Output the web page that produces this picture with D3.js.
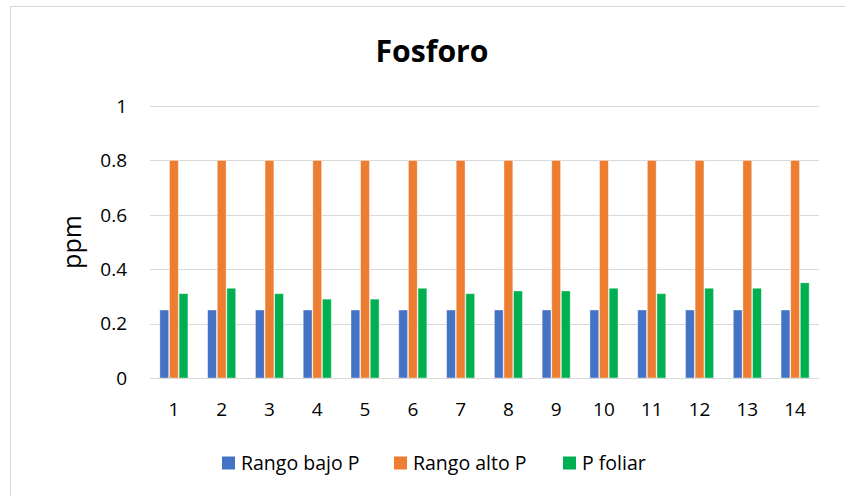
<!DOCTYPE html>
<html>
<head>
<meta charset="utf-8">
<script src="https://cdnjs.cloudflare.com/ajax/libs/d3/7.8.5/d3.min.js"></script>
<style>
  body { margin: 0; background: #fff; }
  svg text { font-family: "Open Sans", "Noto Sans", sans-serif; fill: #000; }
</style>
</head>
<body>
<script>
// data
var samples = ["1","2","3","4","5","6","7","8","9","10","11","12","13","14"]
var seriesNames = ["Rango bajo P","Rango alto P","P foliar"]
var rangoBajo = [0.25,0.25,0.25,0.25,0.25,0.25,0.25,0.25,0.25,0.25,0.25,0.25,0.25,0.25]
var rangoAlto = [0.8,0.8,0.8,0.8,0.8,0.8,0.8,0.8,0.8,0.8,0.8,0.8,0.8,0.8]
var pFoliar = [0.31,0.33,0.31,0.29,0.29,0.33,0.31,0.32,0.32,0.33,0.31,0.33,0.33,0.35]
var yTicks = [0,0.2,0.4,0.6,0.8,1]
var colors = ["#4472c4","#ed7d31","#00b050"]

var W = 845, H = 496
var margin = {top:106, left:150, right:26, bottom:118}

var svg = d3.select("body").append("svg")
  .attr("width",W)
  .attr("height",H)

svg.append("rect")
  .attr("x",10.5).attr("y",6.5)
  .attr("width",W).attr("height",H)
  .attr("fill","#fff")
  .attr("stroke","#d9d9d9")

var x = d3.scaleBand()
  .domain(samples)
  .range([margin.left, W-margin.right])
  .paddingInner(0.38)
  .paddingOuter(0.19)

var xIn = d3.scaleBand()
  .domain(seriesNames)
  .range([0, x.bandwidth()])
  .padding(0.08)

var y = d3.scaleLinear()
  .domain([0,1])
  .range([H-margin.bottom, margin.top])

// gridlines
svg.append("g")
  .selectAll("line")
  .data(yTicks)
  .join("line")
  .attr("x1",margin.left)
  .attr("x2",W-margin.right)
  .attr("y1",d=>Math.round(y(d))+0.5)
  .attr("y2",d=>Math.round(y(d))+0.5)
  .attr("stroke","#d9d9d9")
  .attr("stroke-width",1)

// y tick labels
svg.append("g")
  .selectAll("text")
  .data(yTicks)
  .join("text")
  .attr("x",127)
  .attr("y",d=>y(d))
  .attr("dy","0.36em")
  .attr("text-anchor","end")
  .style("font-size","19px")
  .text(d=>d3.format("")(d))

// x tick labels
svg.append("g")
  .selectAll("text")
  .data(samples)
  .join("text")
  .attr("x",d=>x(d)+x.bandwidth()/2)
  .attr("y",y(0)+38)
  .attr("text-anchor","middle")
  .style("font-size","19px")
  .text(d=>d)

var table = samples.map(function(s,i)
{
  return {
    sample:s,
    values:[rangoBajo[i],rangoAlto[i],pFoliar[i]].map(function(v,j){return {name:seriesNames[j],value:v,color:colors[j]}})
  }
})

var groups = svg.append("g")
  .selectAll("g")
  .data(table)
  .join("g")
  .attr("transform",d=>"translate("+x(d.sample)+",0)")

groups.selectAll("rect")
  .data(d=>d.values)
  .join("rect")
  .attr("x",d=>xIn(d.name))
  .attr("y",d=>y(d.value))
  .attr("width",xIn.bandwidth())
  .attr("height",d=>y(0)-y(d.value))
  .attr("fill",d=>d.color)
  .attr("stroke","#fff")
  .attr("stroke-opacity",0.5)
  .attr("stroke-width",0.8)

// axis line at 0
svg.append("line")
  .attr("x1",margin.left)
  .attr("x2",W-margin.right)
  .attr("y1",Math.round(y(0))+0.5)
  .attr("y2",Math.round(y(0))+0.5)
  .attr("stroke","#d9d9d9")

// title
svg.append("text")
  .attr("x",432)
  .attr("y",62)
  .attr("text-anchor","middle")
  .attr("textLength",113)
  .attr("lengthAdjust","spacingAndGlyphs")
  .style("font-size","31px")
  .style("font-weight","bold")
  .text("Fosforo")

// y axis title
svg.append("text")
  .attr("transform","translate(81,"+y(0.5)+") rotate(-90)")
  .attr("text-anchor","middle")
  .style("font-size","25px")
  .text("ppm")

// legend
var legendX = [222,394,563]
var legend = svg.append("g")
  .selectAll("g")
  .data(seriesNames)
  .join("g")
  .attr("transform",(d,i)=>"translate("+legendX[i]+",463)")

legend.append("rect")
  .attr("x",0).attr("y",-6.5)
  .attr("width",13).attr("height",13)
  .attr("fill",(d,i)=>colors[i])

legend.append("text")
  .attr("x",19)
  .attr("dy","0.36em")
  .style("font-size","19.5px")
  .text(d=>d)
</script>
</body>
</html>
